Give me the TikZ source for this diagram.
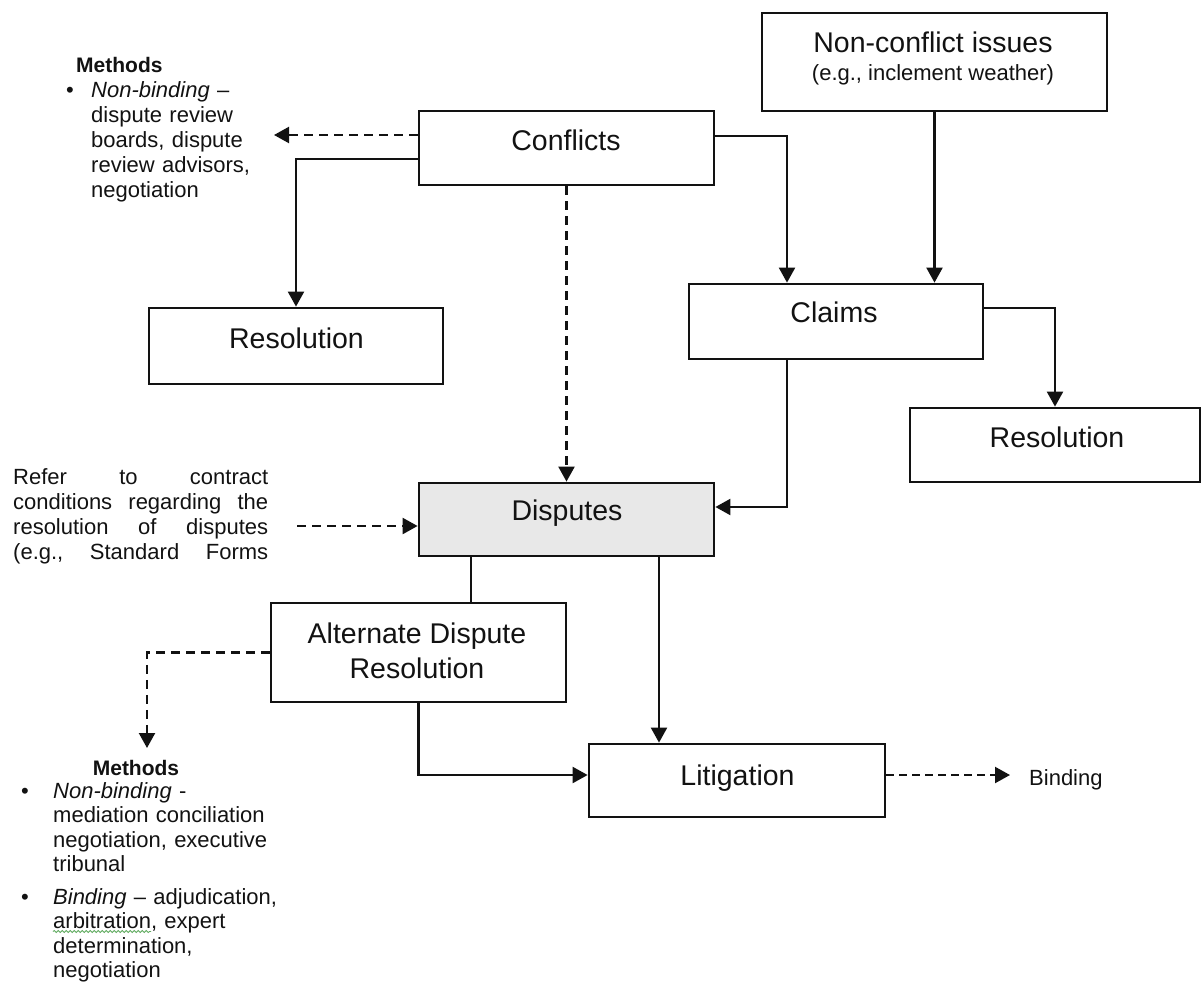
\documentclass[tikz,border=0pt]{standalone}
\usepackage{fontspec}
\setmainfont{Liberation Sans}
\usetikzlibrary{arrows.meta,decorations.pathmorphing}

\definecolor{dispfill}{RGB}{232,232,232}
\definecolor{ink}{RGB}{18,18,18}
\definecolor{spellgreen}{RGB}{95,170,95}

% font sizes (the picture is drawn with 1pt per pixel)
\newcommand\dgbig{\fontsize{28.5}{35}\selectfont}
\newcommand\dgsmall{\fontsize{22}{25}\selectfont}
\newcommand\dgsmallb{\fontsize{22}{24.5}\selectfont}
\newcommand\dghead{\fontsize{21}{25}\selectfont\bfseries}
\newcommand\dgstrut{\rule{0pt}{17pt}}
% a line spread over the full width of the note
\newcommand\dgline[1]{\makebox[255pt][l]{#1}}

\begin{document}
\begin{tikzpicture}[x=1pt,y=-1pt,
  box/.style={draw=ink, line width=2.8pt, inner sep=0pt, outer sep=1.4pt, fill=white},
  lbl/.style={font=\dgbig, inner sep=0pt, anchor=base, text=ink},
  note/.style={font=\dgsmall, inner sep=0pt, anchor=north west, align=left, text=ink},
  conn/.style={draw=ink, line width=2.2pt},
  arr/.style={conn, -{Triangle[length=15pt,width=16pt]}},
  dasharr/.style={arr, dash pattern=on 9pt off 6pt},
]
\useasboundingbox (0,0) rectangle (1202,983);

% ---- boxes ----
\node[box, minimum width=345pt, minimum height=98pt] (nonconf) at (934.5,62) {};
\node[box, minimum width=295pt, minimum height=74pt] (conflicts) at (566.5,148) {};
\node[box, minimum width=294pt, minimum height=76pt] (res1) at (296,346) {};
\node[box, minimum width=294pt, minimum height=75pt] (claims) at (836,321.5) {};
\node[box, minimum width=290pt, minimum height=74pt] (res2) at (1055,445) {};
\node[box, fill=dispfill, minimum width=295pt, minimum height=73pt] (disputes) at (566.5,519.5) {};
\node[box, minimum width=295pt, minimum height=99pt] (adr) at (418.5,652.5) {};
\node[box, minimum width=296pt, minimum height=73pt] (litig) at (737,780.5) {};

% ---- box labels ----
\node[lbl] (nonconfA) at (933,52) {Non-conflict issues};
\node[lbl, font=\dgsmall] (nonconfB) at (933,80) {(e.g., inclement weather)};
\node[lbl] (conflictsT) at (566,150) {Conflicts};
\node[lbl] (res1T) at (296.5,348) {Resolution};
\node[lbl] (claimsT) at (834,322) {Claims};
\node[lbl] (res2T) at (1057,447) {Resolution};
\node[lbl] (disputesT) at (567,520) {Disputes};
\node[lbl] (adrA) at (417,643) {Alternate Dispute};
\node[lbl] (adrB) at (417,678) {Resolution};
\node[lbl] (litigT) at (737.5,785) {Litigation};
\node[lbl, font=\dgsmall, anchor=base west] (binding) at (1029,785) {Binding};

% ---- side notes ----
\node[lbl, font=\dghead, anchor=base west] (meth1head) at (76,72) {Methods};
\node[lbl, font=\dgsmall] (meth1dot) at (70,97) {\textbullet};
\node[note, text width=175pt] (meth1list) at (91,80)
  {\dgstrut\textit{Non-binding} –\\dispute review\\boards, dispute\\review advisors,\\negotiation};

\node[note, text width=255pt] (refer) at (13,467)
  {\dgstrut\dgline{Refer\hfill to\hfill contract}\\
   \dgline{conditions\hfill regarding\hfill the}\\
   \dgline{resolution\hfill of\hfill disputes}\\
   \dgline{(e.g.,\hfill Standard\hfill Forms}};

\node[lbl, font=\dghead] (meth2head) at (136,775) {Methods};
\node[lbl, font=\dgsmall] (meth2dotA) at (25,798) {\textbullet};
\node[note, font=\dgsmallb, text width=240pt] (meth2listA) at (53,781)
  {\dgstrut\textit{Non-binding} -\\mediation conciliation\\negotiation, executive\\tribunal};
\node[lbl, font=\dgsmall] (meth2dotB) at (25,904) {\textbullet};
\node[note, font=\dgsmallb, text width=240pt] (meth2listB) at (53,887)
  {\dgstrut\textit{Binding} – adjudication,\\arbitration, expert\\determination,\\negotiation};
% spelling mark under "arbitration"
\draw[spellgreen, line width=0.8pt, decorate,
      decoration={snake, amplitude=1.1pt, segment length=4pt}]
  (53,931.5) -- (151,931.5);

% ---- connectors ----
\coordinate (meth1tip) at (274,135);
\coordinate (referout) at (297,526);
\coordinate (meth2tip) at (147,748);
\coordinate (bindtip) at (1010,775);

\draw[dasharr] ([yshift=13pt]conflicts.west) -- (meth1tip);
\draw[arr] ([yshift=-11pt]conflicts.west) -| (res1.north);
\draw[dasharr] (conflicts.south) -- (disputes.north);
\draw[arr] ([yshift=12pt]conflicts.east) -| ([xshift=-49pt]claims.north);
\draw[arr] (nonconf.south) -- (nonconf.south |- claims.north);
\draw[arr] ([yshift=13.5pt]claims.east) -| (res2.north);
\draw[arr] ([xshift=-49pt]claims.south) |- ([yshift=12.5pt]disputes.east);
\draw[dasharr] (referout) -- (referout -| disputes.west);
\draw[conn] ([xshift=52.5pt]adr.north) -- ([xshift=52.5pt]adr.north |- disputes.south);
\draw[arr] ([xshift=92.5pt]disputes.south) -- ([xshift=92.5pt]disputes.south |- litig.north);
\draw[dasharr] (adr.west) -| (meth2tip);
\draw[arr] (adr.south) |- ([yshift=5.5pt]litig.west);
\draw[dasharr, dash pattern=on 8pt off 5pt] ([yshift=5.5pt]litig.east) -- (bindtip);
\end{tikzpicture}
\end{document}
